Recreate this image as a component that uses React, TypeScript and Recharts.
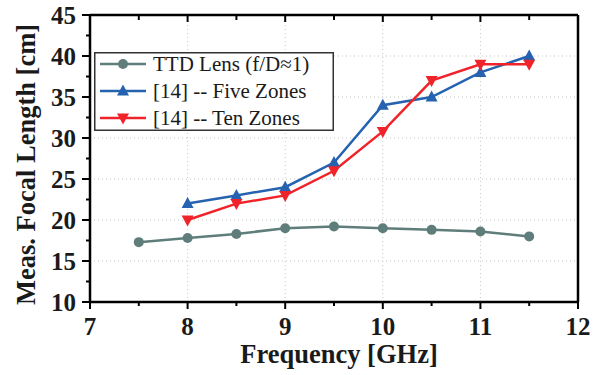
import { Legend, Line, LineChart, ReferenceLine, XAxis, YAxis } from "recharts";

// Measured focal length vs frequency
const frequency = [7.5, 8, 8.5, 9, 9.5, 10, 10.5, 11, 11.5];
const ttdLens = [17.3, 17.8, 18.3, 19.0, 19.2, 19.0, 18.8, 18.6, 18.0];
const fiveZones = [null, 22, 23, 24, 27, 34, 35, 38, 40];
const tenZones = [null, 20, 22, 23, 26, 30.8, 37, 39, 39];

const xTicks = [7, 7.5, 8, 8.5, 9, 9.5, 10, 10.5, 11, 11.5, 12];
const yTicks = [10, 12.5, 15, 17.5, 20, 22.5, 25, 27.5, 30, 32.5, 35, 37.5, 40, 42.5, 45];
const xGrid = [8, 9, 10, 11];
const yGrid = [15, 20, 25, 30, 35, 40];

const GRAY = "#5f7e7b";
const BLUE = "#2563b0";
const RED = "#f0232b";

const data = frequency.map((f, i) => ({
  freq: f,
  ttd: ttdLens[i],
  five: fiveZones[i],
  ten: tenZones[i],
}));

const serif = '"Liberation Serif", "Times New Roman", serif';
const tickFont = { fontFamily: serif, fontWeight: 700, fontSize: 25, fill: "#1a1a1a" };
const titleFont = { fontFamily: serif, fontWeight: 700, fontSize: 26.5, fill: "#1a1a1a" };

function BottomTick({ x, y, payload }: any) {
  const major = Number.isInteger(payload.value);
  return (
    <g>
      <line x1={x} y1={y} x2={x} y2={y + (major ? 7 : 4)} stroke="#000" strokeWidth={2} />
      {major && (
        <text x={x} y={y + 33} textAnchor="middle" style={tickFont}>
          {payload.value}
        </text>
      )}
    </g>
  );
}

function TopTick({ x, y, payload }: any) {
  const major = Number.isInteger(payload.value);
  return <line x1={x} y1={y} x2={x} y2={y + (major ? 7 : 5)} stroke="#000" strokeWidth={2} />;
}

function LeftTick({ x, y, payload }: any) {
  const major = payload.value % 5 === 0;
  return (
    <g>
      <line x1={x} y1={y} x2={x - (major ? 8 : 4)} y2={y} stroke="#000" strokeWidth={2} />
      {major && (
        <text x={x - 14} y={y} dy="0.34em" textAnchor="end" style={tickFont}>
          {payload.value}
        </text>
      )}
    </g>
  );
}

function RightTick({ x, y, payload }: any) {
  const major = payload.value % 5 === 0;
  return <line x1={x} y1={y} x2={x - (major ? 6 : 4)} y2={y} stroke="#000" strokeWidth={2} />;
}

function UpTriangle({ cx, cy, payload }: any) {
  if (cx == null || cy == null || payload.five == null) return <g />;
  return <path d={`M${cx},${cy - 6.5} L${cx + 6},${cy + 4.5} L${cx - 6},${cy + 4.5} Z`} fill={BLUE} />;
}

function DownTriangle({ cx, cy, payload }: any) {
  if (cx == null || cy == null || payload.ten == null) return <g />;
  return <path d={`M${cx},${cy + 6.5} L${cx + 6},${cy - 4.5} L${cx - 6},${cy - 4.5} Z`} fill={RED} />;
}

function Marker({ kind, color, x, y }: { kind: string; color: string; x: number; y: number }) {
  if (kind === "ttd") return <circle cx={x} cy={y} r={5} fill={color} />;
  if (kind === "five")
    return <path d={`M${x},${y - 6.5} L${x + 6},${y + 4.5} L${x - 6},${y + 4.5} Z`} fill={color} />;
  return <path d={`M${x},${y + 6.5} L${x + 6},${y - 4.5} L${x - 6},${y - 4.5} Z`} fill={color} />;
}

function LegendBox({ payload }: any) {
  const rows = payload || [];
  return (
    <svg width={240} height={79} style={{ display: "block" }}>
      <rect x={0.75} y={0.75} width={238.5} height={77.5} fill="#fff" stroke="#333" strokeWidth={1.5} />
      {rows.map((p: any, i: number) => {
        const cy = 12 + i * 27;
        return (
          <g key={p.dataKey}>
            <line x1={6} y1={cy} x2={52} y2={cy} stroke={p.color} strokeWidth={2.5} />
            <Marker kind={p.dataKey} color={p.color} x={29} y={cy} />
            <text x={59} y={cy} dy="0.34em" style={{ fontFamily: serif, fontSize: 21, fill: "#1a1a1a" }}>
              {p.value}
            </text>
          </g>
        );
      })}
    </svg>
  );
}

export default function App() {
  return (
    <div style={{ position: "absolute", left: 0, top: 0, background: "#fff" }}>
      <LineChart width={599} height={375} data={data} margin={{ top: 14, right: 20, bottom: 0, left: 0 }}>
        {xGrid.map((v) => (
          <ReferenceLine key={`gx${v}`} x={v} stroke="#c4c8c8" strokeDasharray="1 3" strokeWidth={1} />
        ))}
        {yGrid.map((v) => (
          <ReferenceLine key={`gy${v}`} y={v} stroke="#c4c8c8" strokeDasharray="1 3" strokeWidth={1} />
        ))}
        <XAxis
          dataKey="freq"
          type="number"
          domain={[7, 12]}
          ticks={xTicks}
          interval={0}
          height={73}
          tickSize={0}
          tickMargin={0}
          tickLine={false}
          tick={<BottomTick />}
          axisLine={{ stroke: "#000", strokeWidth: 2.5 }}
          label={{
            content: ({ viewBox }: any) => (
              <text
                x={viewBox.x + viewBox.width / 2 + 5}
                y={viewBox.y + 61}
                textAnchor="middle"
                style={titleFont}
              >
                Frequency [GHz]
              </text>
            ),
          }}
        />
        <XAxis
          xAxisId="top"
          orientation="top"
          dataKey="freq"
          type="number"
          domain={[7, 12]}
          ticks={xTicks}
          interval={0}
          height={1}
          tickSize={0}
          tickMargin={0}
          tickLine={false}
          tick={<TopTick />}
          axisLine={{ stroke: "#000", strokeWidth: 2.5 }}
        />
        <YAxis
          type="number"
          domain={[10, 45]}
          ticks={yTicks}
          interval={0}
          width={90}
          tickSize={0}
          tickMargin={0}
          tickLine={false}
          tick={<LeftTick />}
          axisLine={{ stroke: "#000", strokeWidth: 2.5 }}
          label={{
            content: ({ viewBox }: any) => {
              const cx = 26;
              const cy = viewBox.y + viewBox.height / 2 + 6;
              return (
                <text
                  x={cx}
                  y={cy}
                  dy="0.34em"
                  textAnchor="middle"
                  transform={`rotate(-90 ${cx} ${cy})`}
                  style={titleFont}
                >
                  Meas. Focal Length [cm]
                </text>
              );
            },
          }}
        />
        <YAxis
          yAxisId="right"
          orientation="right"
          type="number"
          domain={[10, 45]}
          ticks={yTicks}
          interval={0}
          width={1}
          tickSize={0}
          tickMargin={0}
          tickLine={false}
          tick={<RightTick />}
          axisLine={{ stroke: "#000", strokeWidth: 2.5 }}
        />
        <Legend
          layout="vertical"
          align="center"
          verticalAlign="middle"
          content={<LegendBox />}
          wrapperStyle={{ left: 94, top: 52, width: 240, height: 79 }}
        />
        <Line
          dataKey="ttd"
          name="TTD Lens (f/D≈1)"
          stroke={GRAY}
          strokeWidth={2.5}
          dot={{ r: 5, fill: GRAY, stroke: GRAY, strokeWidth: 0 }}
          isAnimationActive={false}
        />
        <Line
          dataKey="five"
          name="[14] -- Five Zones"
          stroke={BLUE}
          strokeWidth={2.5}
          dot={<UpTriangle />}
          isAnimationActive={false}
        />
        <Line
          dataKey="ten"
          name="[14] -- Ten Zones"
          stroke={RED}
          strokeWidth={2.5}
          dot={<DownTriangle />}
          isAnimationActive={false}
        />
      </LineChart>
    </div>
  );
}
